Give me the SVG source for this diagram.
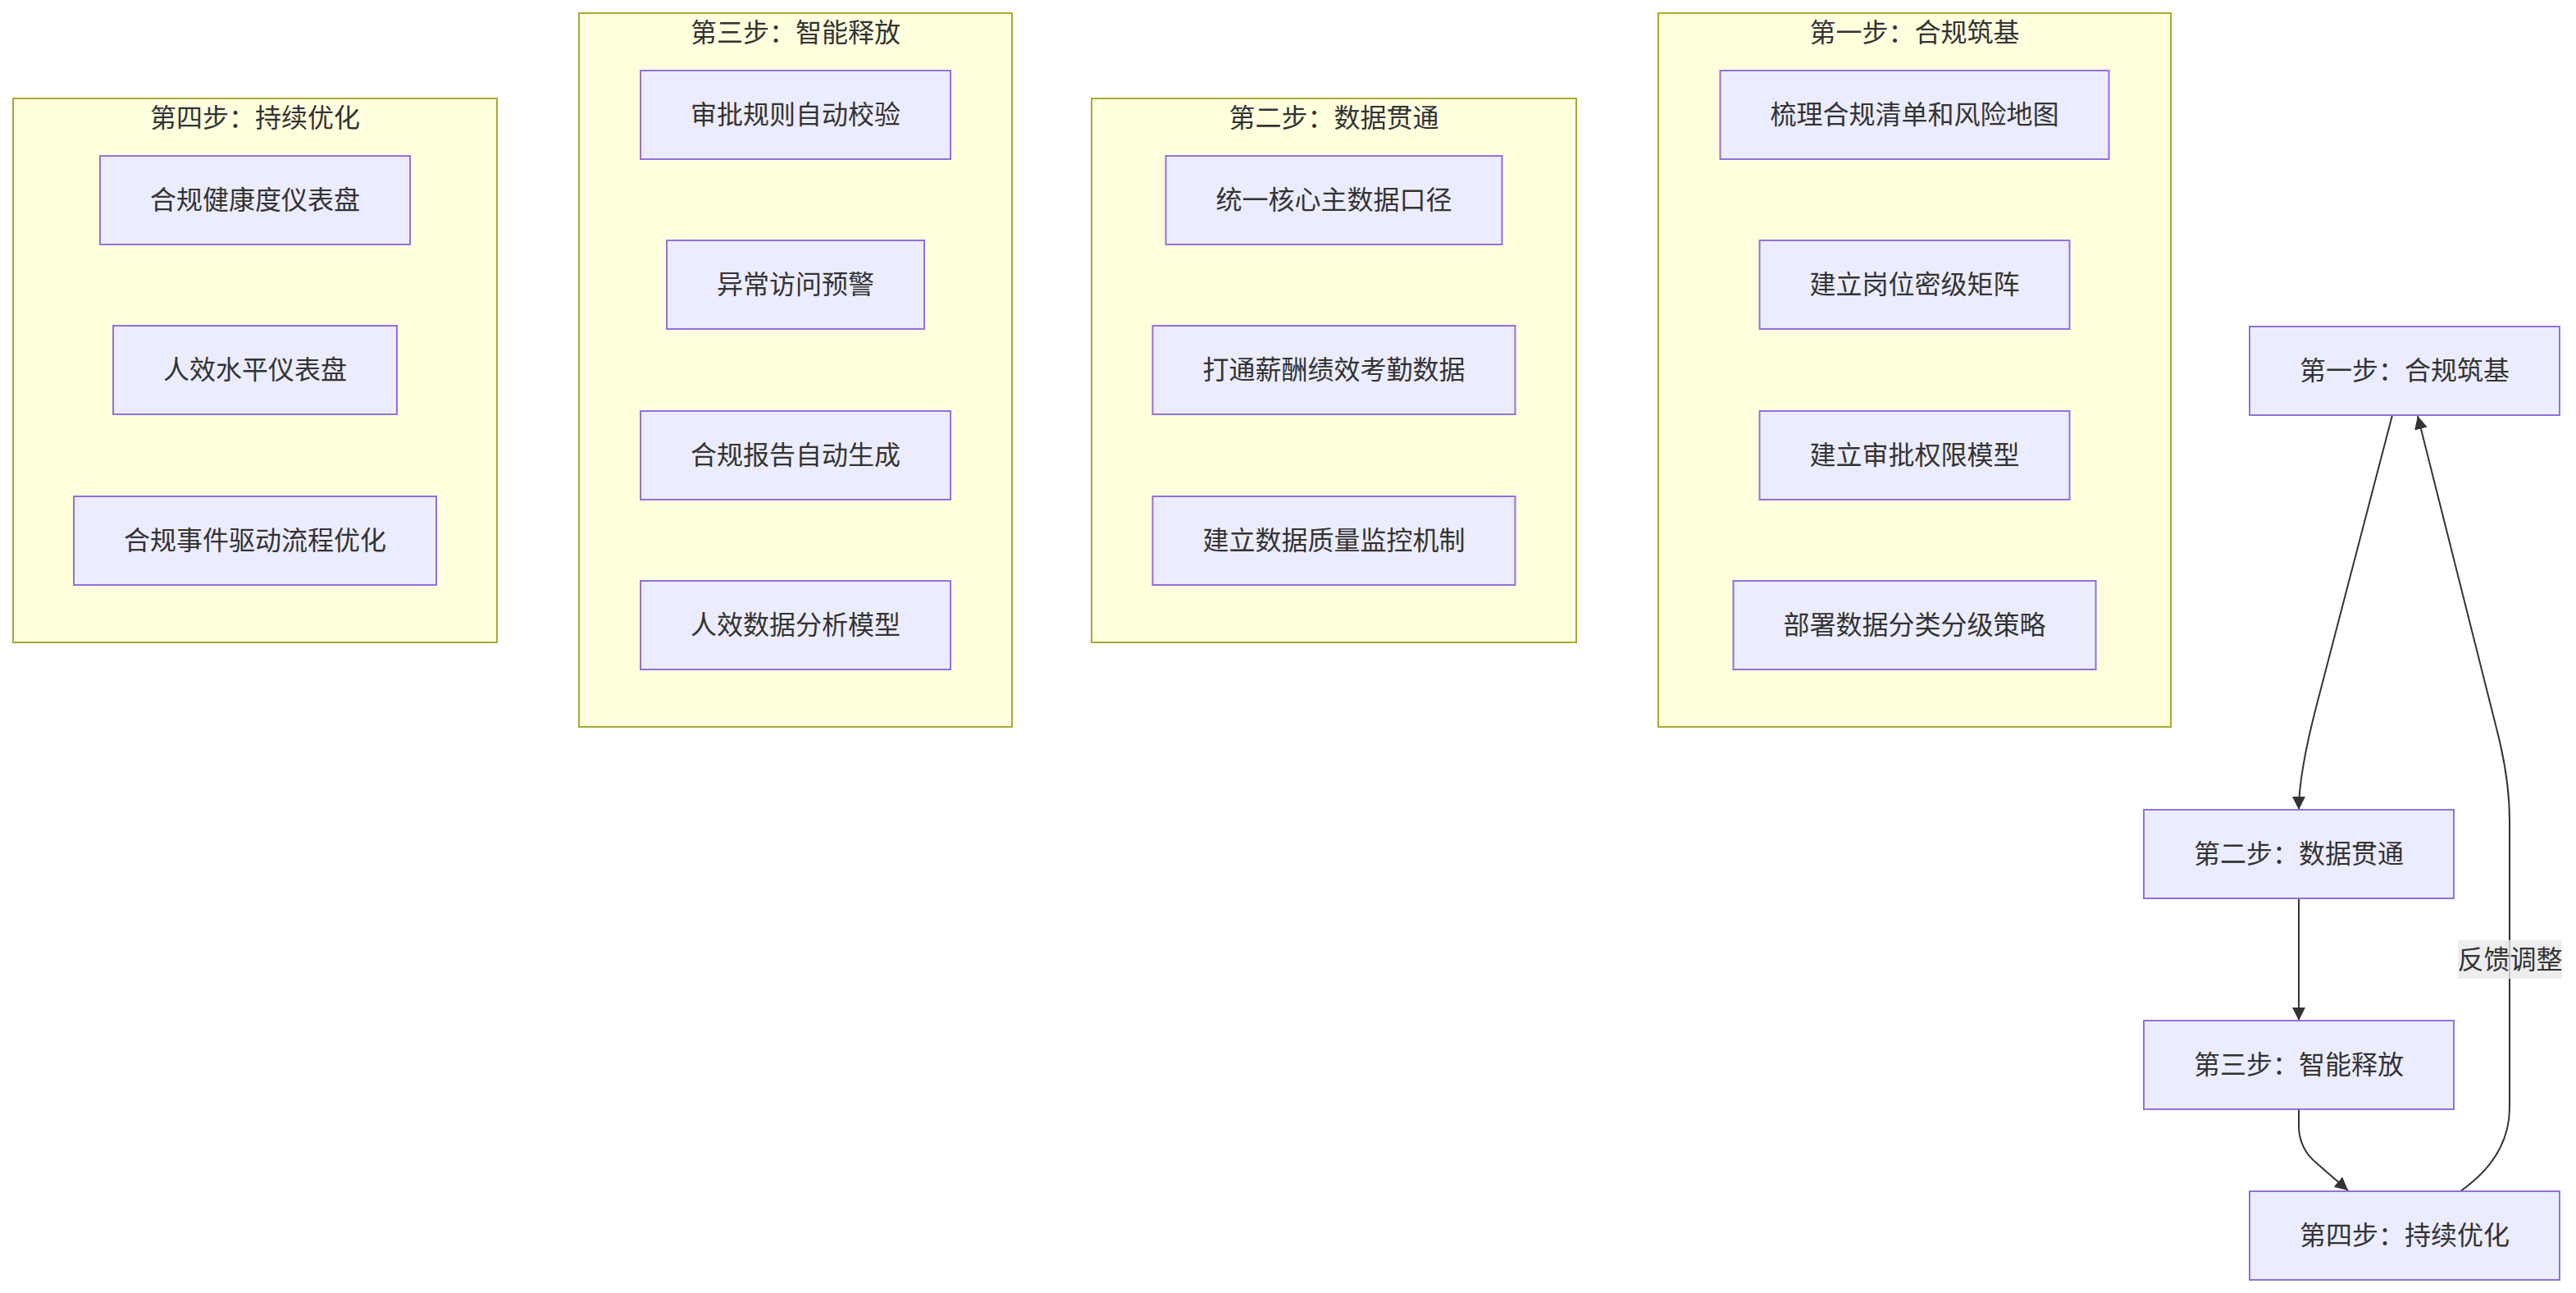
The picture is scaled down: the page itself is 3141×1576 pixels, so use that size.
<svg xmlns="http://www.w3.org/2000/svg" width="3141" height="1576" viewBox="0 0 3141 1576">
<style>
.cluster rect{fill:#ffffde;stroke:#aaaa33;stroke-width:2}
.node rect{fill:#ECECFF;stroke:#9370DB;stroke-width:2}
text{font-family:"Liberation Sans","Noto Sans CJK SC",sans-serif;font-size:32px;fill:#333333;text-anchor:middle;dominant-baseline:central}
.edge{fill:none;stroke:#333333;stroke-width:2}
.elabel{fill:#e8e8e8;fill-opacity:0.8}
</style>
<defs>
<marker id="arrow" viewBox="0 0 10 10" refX="10" refY="5" markerWidth="8" markerHeight="8" markerUnits="strokeWidth" orient="auto">
<path d="M0,0 L10,5 L0,10 z" fill="#333333"/>
</marker>
</defs>
<rect width="3141" height="1576" fill="#ffffff"/>

<g id="cluster-step4" class="cluster">
<rect x="16" y="120" width="590" height="663"/>
<text x="311" y="144">第四步：持续优化</text>
</g>
<g id="cluster-step3" class="cluster">
<rect x="706" y="16" width="528" height="870"/>
<text x="970" y="40">第三步：智能释放</text>
</g>
<g id="cluster-step2" class="cluster">
<rect x="1331" y="120" width="591" height="663"/>
<text x="1626.5" y="144">第二步：数据贯通</text>
</g>
<g id="cluster-step1" class="cluster">
<rect x="2022" y="16" width="625" height="870"/>
<text x="2334.5" y="40">第一步：合规筑基</text>
</g>

<g id="n-d1" class="node"><rect x="122" y="190" width="378" height="108"/><text x="311" y="244">合规健康度仪表盘</text></g>
<g id="n-d2" class="node"><rect x="138" y="397" width="346" height="108"/><text x="311" y="451">人效水平仪表盘</text></g>
<g id="n-d3" class="node"><rect x="90" y="605" width="442" height="108"/><text x="311" y="659">合规事件驱动流程优化</text></g>

<g id="n-c1" class="node"><rect x="781" y="86" width="378" height="108"/><text x="970" y="140">审批规则自动校验</text></g>
<g id="n-c2" class="node"><rect x="813" y="293" width="314" height="108"/><text x="970" y="347">异常访问预警</text></g>
<g id="n-c3" class="node"><rect x="781" y="501" width="378" height="108"/><text x="970" y="555">合规报告自动生成</text></g>
<g id="n-c4" class="node"><rect x="781" y="708" width="378" height="108"/><text x="970" y="762">人效数据分析模型</text></g>

<g id="n-b1" class="node"><rect x="1421.5" y="190" width="410" height="108"/><text x="1626.5" y="244">统一核心主数据口径</text></g>
<g id="n-b2" class="node"><rect x="1405.5" y="397" width="442" height="108"/><text x="1626.5" y="451">打通薪酬绩效考勤数据</text></g>
<g id="n-b3" class="node"><rect x="1405.5" y="605" width="442" height="108"/><text x="1626.5" y="659">建立数据质量监控机制</text></g>

<g id="n-a1" class="node"><rect x="2097.5" y="86" width="474" height="108"/><text x="2334.5" y="140">梳理合规清单和风险地图</text></g>
<g id="n-a2" class="node"><rect x="2145.5" y="293" width="378" height="108"/><text x="2334.5" y="347">建立岗位密级矩阵</text></g>
<g id="n-a3" class="node"><rect x="2145.5" y="501" width="378" height="108"/><text x="2334.5" y="555">建立审批权限模型</text></g>
<g id="n-a4" class="node"><rect x="2113.5" y="708" width="442" height="108"/><text x="2334.5" y="762">部署数据分类分级策略</text></g>

<g id="connectors">
<path class="edge" d="M2917,506 L2824.6,860 Q2803,943 2803,987" marker-end="url(#arrow)"/>
<path class="edge" d="M2803,1095 L2803,1244" marker-end="url(#arrow)"/>
<path class="edge" d="M2803,1352 L2803,1372 Q2803,1400 2825,1418 L2863,1451" marker-end="url(#arrow)"/>
<path class="edge" d="M3000,1452 Q3060,1410 3060,1350 L3060,1000 Q3060,950 3044.6,890 L2948,507" marker-end="url(#arrow)"/>
<rect class="elabel" x="2997" y="1146" width="127" height="47"/>
<text x="3060.5" y="1169.5">反馈调整</text>
</g>

<g id="s1" class="node"><rect x="2743" y="398" width="378" height="108"/><text x="2932" y="452">第一步：合规筑基</text></g>
<g id="s2" class="node"><rect x="2614" y="987" width="378" height="108"/><text x="2803" y="1041">第二步：数据贯通</text></g>
<g id="s3" class="node"><rect x="2614" y="1244" width="378" height="108"/><text x="2803" y="1298">第三步：智能释放</text></g>
<g id="s4" class="node"><rect x="2743" y="1452" width="378" height="108"/><text x="2932" y="1506">第四步：持续优化</text></g>
</svg>
